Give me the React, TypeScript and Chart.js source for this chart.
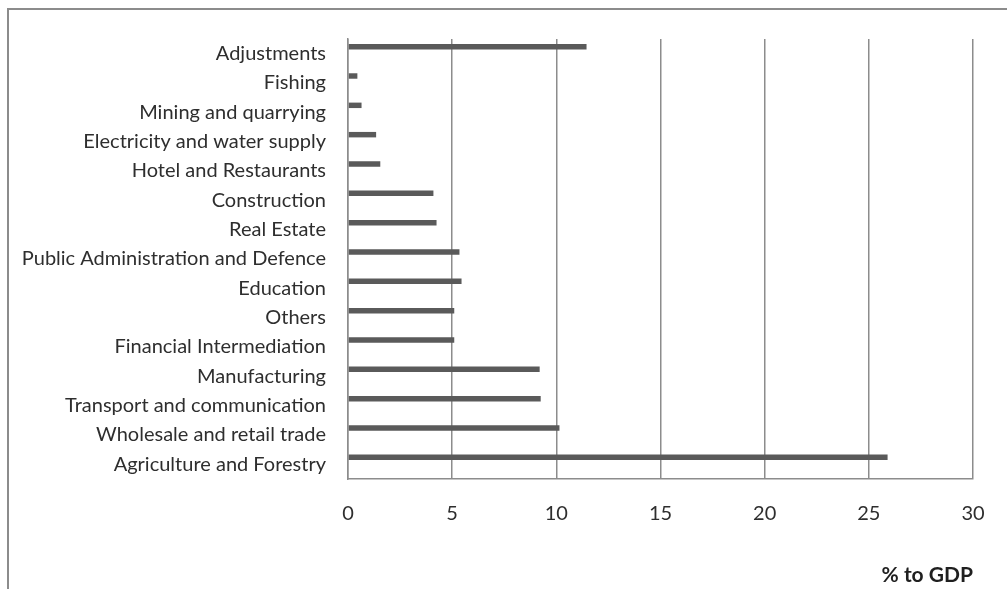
import React, { useEffect, useRef } from 'react';
import { Chart, registerables } from 'chart.js';

Chart.register(...registerables);

const categories = [
  'Adjustments',
  'Fishing',
  'Mining and quarrying',
  'Electricity and water supply',
  'Hotel and Restaurants',
  'Construction',
  'Real Estate',
  'Public Administration and Defence',
  'Education',
  'Others',
  'Financial Intermediation',
  'Manufacturing',
  'Transport and communication',
  'Wholesale and retail trade',
  'Agriculture and Forestry',
];
const shareOfGdp = [11.45, 0.45, 0.65, 1.35, 1.55, 4.1, 4.25, 5.35, 5.45, 5.1, 5.1, 9.2, 9.25, 10.15, 25.9];
const spacerSeries = categories.map(() => null);
const xTickValues = [0, 5, 10, 15, 20, 25, 30];
const axisTitle = '% to GDP';

export default function App() {
  const ref = useRef<HTMLCanvasElement | null>(null);

  useEffect(() => {
    if (!ref.current) return;
    const grid = '#8c8c8c';
    const font = 'Lato';
    const chart = new Chart(ref.current, {
      type: 'bar',
      data: {
        labels: categories,
        datasets: [
          {
            label: axisTitle,
            data: shareOfGdp,
            backgroundColor: '#5a5a5a',
            borderWidth: 0,
            categoryPercentage: 0.955,
            barPercentage: 0.39,
          },
          {
            label: '',
            data: spacerSeries as any,
            backgroundColor: 'rgba(0,0,0,0)',
            borderWidth: 0,
            categoryPercentage: 0.955,
            barPercentage: 0.39,
          },
        ],
      },
      options: {
        indexAxis: 'y',
        animation: false,
        responsive: false,
        maintainAspectRatio: false,
        layout: { padding: { top: 29, right: 36, left: 0, bottom: 0 } },
        plugins: { legend: { display: false }, tooltip: { enabled: false } },
        scales: {
          x: {
            min: 0,
            max: 30,
            afterBuildTicks: (s: any) => {
              s.ticks = xTickValues.map((v) => ({ value: v }));
            },
            ticks: { padding: 23, color: '#2e2e2e', font: { family: font, size: 20 } },
            grid: { color: grid, lineWidth: 1.5, drawTicks: false },
            border: { display: true, color: grid, width: 1.5 },
            title: {
              display: true,
              text: axisTitle,
              align: 'end',
              color: '#1f1f1f',
              font: { family: font, size: 21, weight: 'bold' },
              padding: { top: 4, bottom: 3 },
            },
            afterFit: (s: any) => {
              s.height = 112;
            },
          },
          y: {
            ticks: { padding: 22, color: '#2e2e2e', autoSkip: false, font: { family: font, size: 20 } },
            grid: { display: false, drawTicks: false },
            border: { display: true, color: grid, width: 1.5 },
            afterFit: (s: any) => {
              s.width = 339;
              s.paddingTop = 0;
              s.paddingBottom = 0;
            },
          },
        },
      },
    } as any);
    return () => chart.destroy();
  }, []);

  return (
    <div
      style={{
        position: 'fixed',
        left: 7,
        top: 8,
        width: 1000,
        height: 581,
        borderTop: '2px solid #8c8c8c',
        borderLeft: '2px solid #8c8c8c',
        background: '#fff',
      }}
    >
      <canvas ref={ref} width={1000} height={581} style={{ display: 'block' }} />
    </div>
  );
}
